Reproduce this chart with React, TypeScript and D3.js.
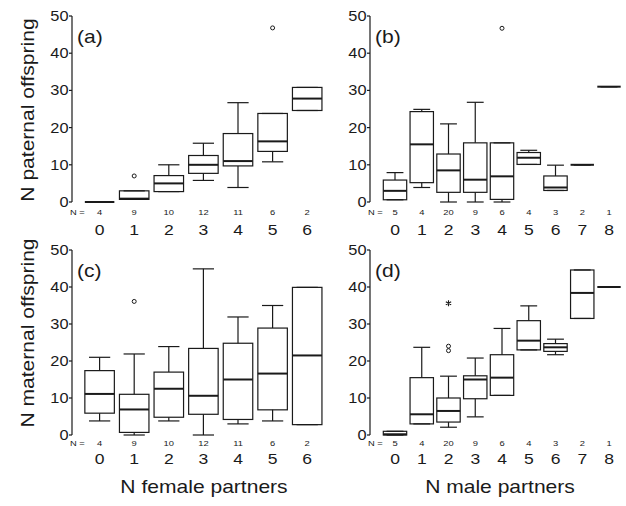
import * as d3 from "d3";

// lo whisker, q1, median, q3, hi whisker
type Five = [number, number, number, number, number];
interface Point {
  category: string;
  value: number;
}

const femaleCategories = ["0", "1", "2", "3", "4", "5", "6"];
const maleCategories = ["0", "1", "2", "3", "4", "5", "6", "7", "8"];
const femaleCounts = [4, 9, 10, 12, 11, 6, 2];
const maleCounts = [5, 4, 20, 9, 6, 4, 3, 2, 1];
const yTicks = [0, 10, 20, 30, 40, 50];

// (a) paternal offspring by number of female partners
const paternalByFemale: Five[] = [
  [0, 0, 0, 0, 0],
  [0.7, 0.7, 0.9, 3, 3],
  [2.8, 2.8, 5, 7.1, 10],
  [5.8, 7.7, 10, 12.5, 15.8],
  [3.9, 9.7, 11, 18.4, 26.7],
  [10.8, 13.6, 16.3, 23.8, 23.8],
  [24.6, 24.6, 27.8, 30.8, 30.8],
];
const paternalByFemaleOutliers: Point[] = [
  { category: "1", value: 7 },
  { category: "5", value: 46.8 },
];

// (b) paternal offspring by number of male partners
const paternalByMale: Five[] = [
  [0.6, 0.6, 3, 5.9, 7.9],
  [3.9, 5.2, 15.5, 24.3, 24.9],
  [0, 2.6, 8.5, 12.9, 21],
  [0, 2.6, 6, 15.9, 26.8],
  [0, 0.7, 6.9, 15.9, 15.9],
  [10.1, 10.1, 11.9, 13.3, 13.9],
  [3.1, 3.1, 3.9, 7, 9.9],
  [10, 10, 10, 10, 10],
  [31, 31, 31, 31, 31],
];
const paternalByMaleOutliers: Point[] = [{ category: "4", value: 46.7 }];

// (c) maternal offspring by number of female partners
const maternalByFemale: Five[] = [
  [3.8, 5.9, 11.1, 17.4, 21],
  [0, 0.7, 6.9, 11, 21.9],
  [3.8, 4.8, 12.5, 17, 23.9],
  [0, 5.6, 10.6, 23.4, 44.9],
  [3, 4.2, 15, 24.8, 31.9],
  [3.8, 6.8, 16.6, 28.9, 35],
  [2.8, 2.8, 21.5, 39.9, 39.9],
];
const maternalByFemaleOutliers: Point[] = [{ category: "1", value: 36.1 }];

// (d) maternal offspring by number of male partners
const maternalByMale: Five[] = [
  [0, 0, 0.2, 1, 1],
  [3, 3, 5.6, 15.5, 23.7],
  [2.1, 3.5, 6.5, 10, 15.9],
  [4.9, 9.8, 15, 16, 20.8],
  [10.7, 10.7, 15.5, 21.7, 28.8],
  [23, 23, 25.5, 30.9, 34.9],
  [21.7, 22.6, 23.7, 24.7, 25.9],
  [31.5, 31.5, 38.4, 44.6, 44.6],
  [40, 40, 40, 40, 40],
];
const maternalByMaleOutliers: Point[] = [
  { category: "2", value: 22.8 },
  { category: "2", value: 24 },
];
const maternalByMaleExtremes: Point[] = [{ category: "2", value: 35.6 }];

const INK = "#1a1a1a";
const STRETCH = 1.17; // glyphs in the figure are wider than Arial's

function Label(props: {
  x: number;
  y: number;
  size: number;
  anchor?: string;
  rotate?: boolean;
  children: React.ReactNode;
}) {
  const t = `translate(${props.x},${props.y})${
    props.rotate ? " rotate(-90)" : ""
  } scale(${STRETCH},1)`;
  return (
    <text
      transform={t}
      fontSize={props.size}
      textAnchor={props.anchor ?? "middle"}
      fill={INK}
    >
      {props.children}
    </text>
  );
}

function BoxPanel(props: {
  axisX: number;
  yTop: number;
  yBottom: number;
  xFirst: number;
  xLast: number;
  boxWidth: number;
  categories: string[];
  counts: number[];
  boxes: Five[];
  outliers: Point[];
  extremes?: Point[];
  label: string;
  countY: number;
  categoryY: number;
}) {
  const y = d3.scaleLinear().domain([0, 50]).range([props.yBottom, props.yTop]);
  const x = d3
    .scalePoint<string>()
    .domain(props.categories)
    .range([props.xFirst, props.xLast]);
  const half = props.boxWidth / 2;
  const cap = props.boxWidth * 0.36;
  const star = d3.symbol().type(d3.symbolAsterisk).size(26)() ?? "";

  return (
    <g>
      {/* y axis */}
      <line
        x1={props.axisX}
        x2={props.axisX}
        y1={y(0)}
        y2={y(50)}
        stroke={INK}
        strokeWidth={1.2}
      />
      {yTicks.map((t) => (
        <g key={t}>
          <line
            x1={props.axisX - 3}
            x2={props.axisX}
            y1={y(t)}
            y2={y(t)}
            stroke={INK}
            strokeWidth={1.2}
          />
          <Label x={props.axisX - 3.5} y={y(t) + 5} size={14} anchor="end">
            {t}
          </Label>
        </g>
      ))}

      <Label x={props.axisX + 5} y={y(50) + 27} size={18} anchor="start">
        {props.label}
      </Label>

      {/* boxes */}
      {props.boxes.map(([lo, q1, med, q3, hi], i) => {
        const cx = x(props.categories[i]) ?? 0;
        return (
          <g key={i} stroke={INK} fill="none">
            <line x1={cx} x2={cx} y1={y(lo)} y2={y(q1)} strokeWidth={1.2} />
            <line x1={cx} x2={cx} y1={y(q3)} y2={y(hi)} strokeWidth={1.2} />
            <line
              x1={cx - cap}
              x2={cx + cap}
              y1={y(lo)}
              y2={y(lo)}
              strokeWidth={1.2}
            />
            <line
              x1={cx - cap}
              x2={cx + cap}
              y1={y(hi)}
              y2={y(hi)}
              strokeWidth={1.2}
            />
            <rect
              x={cx - half}
              y={y(q3)}
              width={props.boxWidth}
              height={y(q1) - y(q3)}
              strokeWidth={1.2}
            />
            <line
              x1={cx - half}
              x2={cx + half}
              y1={y(med)}
              y2={y(med)}
              strokeWidth={2}
            />
          </g>
        );
      })}

      {props.outliers.map((d, i) => (
        <circle
          key={i}
          cx={x(d.category) ?? 0}
          cy={y(d.value)}
          r={2}
          fill="none"
          stroke={INK}
          strokeWidth={1}
        />
      ))}
      {(props.extremes ?? []).map((d, i) => (
        <path
          key={i}
          d={star}
          transform={`translate(${x(d.category) ?? 0},${y(d.value)})`}
          stroke={INK}
          strokeWidth={1.1}
          fill="none"
        />
      ))}

      {/* N row and category labels */}
      <Label x={props.axisX - 2} y={props.countY} size={8} anchor="start">
        N =
      </Label>
      {props.categories.map((c, i) => (
        <g key={c}>
          <Label x={x(c) ?? 0} y={props.countY} size={8}>
            {props.counts[i]}
          </Label>
          <Label x={x(c) ?? 0} y={props.categoryY} size={15}>
            {c}
          </Label>
        </g>
      ))}
    </g>
  );
}

export default function App() {
  const left = { axisX: 72, xFirst: 99.6, xLast: 307.2, boxWidth: 29.5 };
  const right = { axisX: 370, xFirst: 395, xLast: 609, boxWidth: 23.4 };
  const top = { yTop: 16, yBottom: 202, countY: 214.5, categoryY: 235 };
  const bottom = { yTop: 250, yBottom: 435, countY: 446, categoryY: 464 };

  return (
    <svg
      width={626}
      height={506}
      style={{
        position: "absolute",
        left: 0,
        top: 0,
        background: "#fff",
        fontFamily: "'Liberation Sans', Arial, Helvetica, sans-serif",
      }}
    >
      <BoxPanel
        {...left}
        {...top}
        categories={femaleCategories}
        counts={femaleCounts}
        boxes={paternalByFemale}
        outliers={paternalByFemaleOutliers}
        label="(a)"
      />
      <BoxPanel
        {...right}
        {...top}
        categories={maleCategories}
        counts={maleCounts}
        boxes={paternalByMale}
        outliers={paternalByMaleOutliers}
        label="(b)"
      />
      <BoxPanel
        {...left}
        {...bottom}
        categories={femaleCategories}
        counts={femaleCounts}
        boxes={maternalByFemale}
        outliers={maternalByFemaleOutliers}
        label="(c)"
      />
      <BoxPanel
        {...right}
        {...bottom}
        categories={maleCategories}
        counts={maleCounts}
        boxes={maternalByMale}
        outliers={maternalByMaleOutliers}
        extremes={maternalByMaleExtremes}
        label="(d)"
      />

      <Label x={34} y={110} size={18} rotate>
        N paternal offspring
      </Label>
      <Label x={34} y={333} size={18} rotate>
        N maternal offspring
      </Label>
      <Label x={204} y={493} size={18}>
        N female partners
      </Label>
      <Label x={500} y={493} size={18}>
        N male partners
      </Label>
    </svg>
  );
}
